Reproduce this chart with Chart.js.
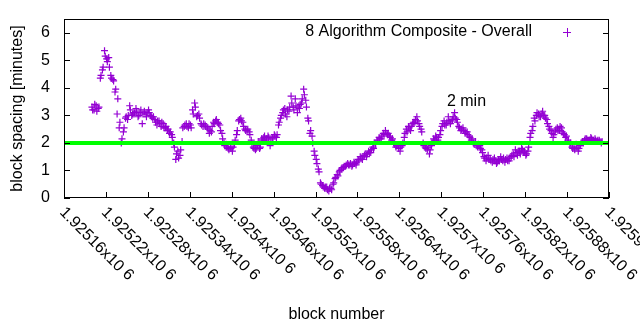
<!DOCTYPE html>
<html>
<head>
<meta charset="utf-8">
<script src="https://cdn.jsdelivr.net/npm/chart.js@4/dist/chart.umd.min.js"></script>
<style>
  html, body { margin: 0; background: #fff; }
</style>
</head>
<body>
<canvas id="spacingChart" width="640" height="330"></canvas>
<script>
// block numbers run from firstBlock upwards, one value every blockStep blocks;
// the second list holds the block right after each of those
const firstBlock = 1925200;
const blockStep = 3;
const spacingMinutes = [
  3.3, 3.2, 3.35, 3.25, 4.35, 4.65, 5.35, 5.05, 5.1, 4.45,
  4.3, 3.85, 3.05, 2.55, 2.0, 2.4, 2.9, 2.85, 3.35, 3.0,
  3.05, 3.25, 2.95, 3.1, 2.7, 3.15, 2.95, 3.2, 3.0, 2.9,
  2.85, 2.65, 2.8, 2.6, 2.7, 2.55, 2.45, 2.35, 2.3, 2.0,
  1.4, 1.7, 1.55, 2.05, 2.6, 2.7, 2.55, 2.65, 3.2, 3.45,
  2.95, 3.05, 2.7, 2.6, 2.65, 2.55, 2.35, 2.4, 2.75, 2.8,
  2.75, 2.65, 2.35, 2.0, 1.95, 1.8, 1.85, 1.7, 1.95, 2.3,
  2.8, 2.9, 2.75, 2.5, 2.45, 2.4, 2.1, 1.85, 1.75, 1.9,
  1.8, 2.15, 2.2, 2.1, 2.25, 1.9, 2.15, 2.3, 2.2, 2.65,
  2.9, 3.1, 3.25, 2.95, 3.15, 3.7, 3.3, 3.6, 3.1, 3.25,
  3.45, 3.95, 3.55, 2.9, 2.35, 2.25, 1.7, 1.4, 1.05, 0.55,
  0.45, 0.35, 0.4, 0.25, 0.35, 0.5, 0.7, 0.85, 0.95, 1.05,
  1.1, 1.15, 1.25, 1.2, 1.15, 1.3, 1.2, 1.4, 1.5, 1.4,
  1.55, 1.5, 1.7, 1.65, 1.85, 2.0, 2.1, 2.2, 2.15, 2.35,
  2.45, 2.3, 2.25, 2.1, 2.0, 1.85, 1.9, 1.7, 1.9, 2.2,
  2.5, 2.6, 2.45, 2.7, 2.75, 2.95, 2.7, 2.5, 2.0, 1.85,
  1.75, 1.6, 1.9, 2.15, 2.25, 2.1, 2.3, 2.6, 2.8, 2.65,
  2.95, 2.7, 2.85, 3.1, 2.85, 2.6, 2.45, 2.55, 2.35, 2.4,
  2.25, 2.1, 2.0, 2.05, 1.85, 1.9, 1.75, 1.5, 1.35, 1.55,
  1.4, 1.3, 1.45, 1.25, 1.4, 1.5, 1.35, 1.3, 1.45, 1.35,
  1.5, 1.6, 1.75, 1.55, 1.7, 1.8, 1.65, 1.55, 1.7, 2.2,
  2.45, 2.9, 3.0, 3.05, 2.95, 3.15, 3.0, 2.85, 2.6, 2.45,
  2.2, 2.4, 2.55, 2.45, 2.55, 2.35, 2.2, 2.1, 1.95, 1.85,
  1.8, 1.95, 1.7, 1.9, 2.05, 2.1, 2.15, 2.05, 2.2, 2.1,
  2.15, 2.05, 2.1, 2.0
];
const spacingMinutesNext = [
  3.2, 3.4, 3.15, 3.3, 4.45, 4.75, 5.15, 4.95, 4.75, 4.35,
  4.25, 3.95, 3.6, 2.75, 2.15, 2.55, 2.95, 3.0, 3.2, 3.05,
  3.1, 3.15, 3.0, 3.2, 3.05, 3.05, 3.1, 3.1, 2.95, 2.95,
  2.75, 2.8, 2.7, 2.75, 2.55, 2.6, 2.5, 2.4, 2.2, 1.85,
  1.6, 1.45, 1.75, 2.55, 2.65, 2.6, 2.7, 2.55, 3.05, 3.3,
  3.0, 2.9, 2.65, 2.7, 2.6, 2.5, 2.45, 2.6, 2.7, 2.85,
  2.7, 2.45, 2.15, 1.9, 1.85, 1.75, 1.8, 1.85, 2.1, 2.45,
  2.85, 2.8, 2.6, 2.45, 2.5, 2.3, 1.95, 1.8, 1.8, 2.05,
  1.85, 2.1, 2.25, 2.15, 2.2, 2.05, 2.2, 2.25, 2.3, 2.75,
  3.0, 3.2, 3.05, 3.2, 3.3, 3.45, 3.2, 3.35, 3.3, 3.4,
  3.6, 3.75, 3.3, 2.8, 2.45, 2.0, 1.55, 1.25, 0.95, 0.5,
  0.4, 0.4, 0.3, 0.35, 0.3, 0.55, 0.75, 0.8, 1.0, 1.1,
  1.15, 1.2, 1.2, 1.25, 1.2, 1.25, 1.3, 1.35, 1.45, 1.5,
  1.6, 1.6, 1.65, 1.75, 1.8, 1.95, 2.05, 2.15, 2.25, 2.3,
  2.35, 2.35, 2.2, 2.15, 1.95, 1.9, 1.8, 1.85, 2.0, 2.35,
  2.4, 2.55, 2.6, 2.75, 2.85, 2.8, 2.6, 2.4, 1.9, 1.8,
  1.85, 1.75, 2.0, 2.1, 2.2, 2.2, 2.45, 2.7, 2.65, 2.75,
  2.8, 2.8, 2.95, 2.9, 2.75, 2.55, 2.5, 2.45, 2.4, 2.3,
  2.2, 2.15, 1.95, 1.9, 1.95, 1.8, 1.65, 1.45, 1.45, 1.4,
  1.35, 1.4, 1.35, 1.3, 1.35, 1.4, 1.45, 1.4, 1.35, 1.45,
  1.55, 1.5, 1.65, 1.7, 1.6, 1.75, 1.7, 1.6, 1.85, 2.35,
  2.6, 2.8, 3.1, 2.95, 3.05, 3.0, 2.9, 2.7, 2.5, 2.35,
  2.3, 2.5, 2.45, 2.6, 2.4, 2.3, 2.25, 2.05, 2.0, 1.8,
  1.75, 1.85, 1.8, 2.0, 2.0, 2.15, 2.1, 2.1, 2.15, 2.05,
  2.1, 2.1, 2.05, 2.05
];
const targetMinutes = 2;
const xRange = [1925160, 1925940];
const yRange = [0, 6.5];
const seriesName = '8 Algorithm Composite - Overall';
const targetLabel = '2 min';
const targetLabelAt = { x: 1925736, y: 3.5 };

const points = [];
spacingMinutes.forEach((v, i) => {
  points.push({ x: firstBlock + i * blockStep, y: v });
  points.push({ x: firstBlock + i * blockStep + 1, y: spacingMinutesNext[i] });
});

const FONT = '16px "Liberation Sans", Arial, sans-serif';
const PURPLE = '#9400d3';

// border, inward tick marks, tick labels, titles and key, gnuplot style
const frame = {
  id: 'frame',
  afterDatasetsDraw(chart) {
    const { ctx, chartArea: a, scales: { x, y } } = chart;
    ctx.save();
    ctx.strokeStyle = '#000';
    ctx.lineWidth = 1;
    ctx.strokeRect(a.left + 0.5, a.top + 0.5, a.right - a.left - 1, a.bottom - a.top - 1);

    const yTicks = y.ticks.filter(t => Number.isInteger(t.value));
    ctx.beginPath();
    yTicks.forEach(t => {
      const py = Math.round(y.getPixelForValue(t.value)) + 0.5;
      ctx.moveTo(a.left, py); ctx.lineTo(a.left + 6, py);
      ctx.moveTo(a.right, py); ctx.lineTo(a.right - 6, py);
    });
    x.ticks.forEach(t => {
      const px = Math.round(x.getPixelForValue(t.value)) + 0.5;
      ctx.moveTo(px, a.bottom); ctx.lineTo(px, a.bottom - 6);
    });
    ctx.stroke();

    ctx.fillStyle = '#000';
    ctx.font = FONT;
    ctx.textAlign = 'right';
    ctx.textBaseline = 'middle';
    yTicks.forEach(t => {
      ctx.fillText(String(t.value), a.left - 14, y.getPixelForValue(t.value));
    });

    // x labels run down to the right from each tick
    x.ticks.forEach(t => {
      const px = x.getPixelForValue(t.value);
      const mant = parseFloat((t.value / 1e6).toFixed(5)) + 'x10';
      ctx.save();
      ctx.translate(px - 2, a.bottom + 12);
      ctx.rotate(Math.PI / 4);
      ctx.textAlign = 'left';
      ctx.textBaseline = 'middle';
      ctx.fillText(mant, 0, 0);
      const w = ctx.measureText(mant + ' ').width;
      ctx.fillText('6', w, -1);
      ctx.restore();
    });

    ctx.textAlign = 'center';
    ctx.fillText('block number', (a.left + a.right) / 2, 315);
    ctx.save();
    ctx.translate(18, (a.top + a.bottom) / 2);
    ctx.rotate(-Math.PI / 2);
    ctx.fillText('block spacing [minutes]', 0, 0);
    ctx.restore();

    ctx.fillText(targetLabel, x.getPixelForValue(targetLabelAt.x), y.getPixelForValue(targetLabelAt.y));

    // key: text then a sample cross
    ctx.textAlign = 'right';
    ctx.fillText(seriesName, 532, 32);
    ctx.strokeStyle = PURPLE;
    ctx.beginPath();
    ctx.moveTo(563, 32.5); ctx.lineTo(571, 32.5);
    ctx.moveTo(567.5, 28); ctx.lineTo(567.5, 37);
    ctx.stroke();
    ctx.restore();
  }
};

new Chart(document.getElementById('spacingChart'), {
  type: 'scatter',
  data: {
    datasets: [
      {
        label: '2 min',
        data: [{ x: xRange[0], y: targetMinutes }, { x: xRange[1], y: targetMinutes }],
        showLine: true,
        borderColor: '#00ff00',
        borderWidth: 4,
        pointRadius: 0,
        order: 0
      },
      {
        label: seriesName,
        data: points,
        pointStyle: 'cross',
        pointRadius: 3.5,
        borderColor: PURPLE,
        backgroundColor: PURPLE,
        borderWidth: 1.2,
        order: 1
      }
    ]
  },
  options: {
    responsive: false,
    animation: false,
    layout: { padding: { left: 64, right: 31, top: 19, bottom: 132 } },
    plugins: { legend: { display: false }, tooltip: { enabled: false } },
    scales: {
      x: {
        type: 'linear', min: xRange[0], max: xRange[1],
        ticks: { stepSize: 60, display: false },
        grid: { display: false, drawTicks: false },
        border: { display: false }
      },
      y: {
        min: yRange[0], max: yRange[1],
        ticks: { stepSize: 1, display: false },
        grid: { display: false, drawTicks: false },
        border: { display: false }
      }
    }
  },
  plugins: [frame]
});
</script>
</body>
</html>
